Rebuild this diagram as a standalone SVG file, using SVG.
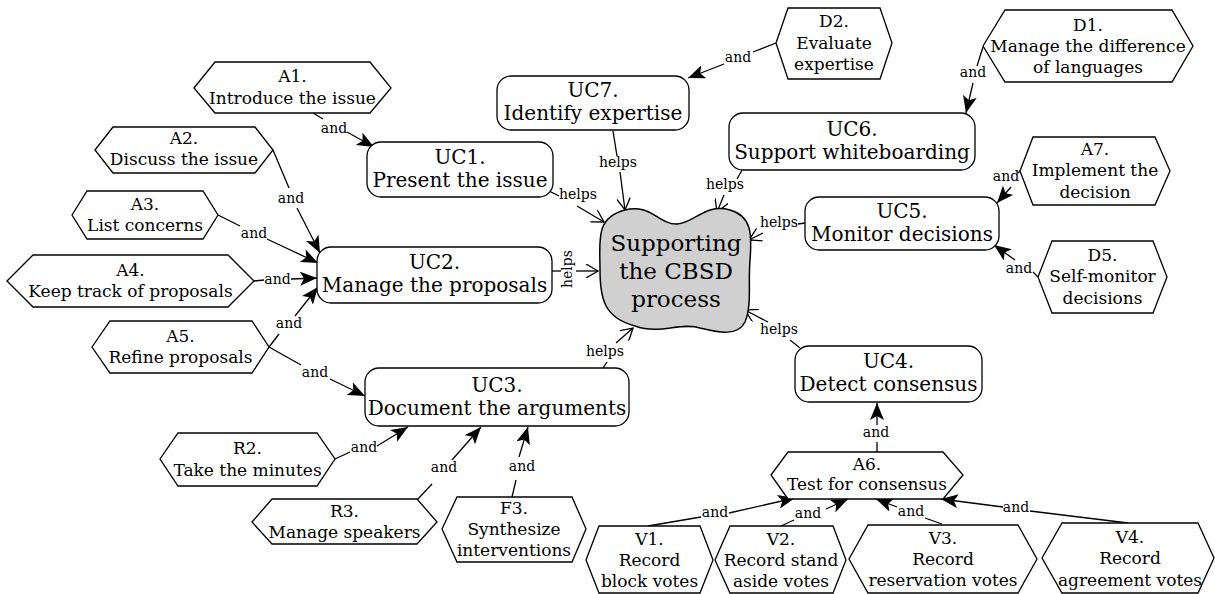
<svg xmlns="http://www.w3.org/2000/svg" width="1215" height="594" viewBox="0 0 1215 594">
<style>
text{text-anchor:middle;fill:#000;font-family:'DejaVu Serif',serif}
.hex{fill:#fff;stroke:#000;stroke-width:1.3}
.rr{fill:#fff;stroke:#000;stroke-width:1.3}
.ht{font-size:17px}
.rt{font-size:20px}
.ct{font-size:23px}
.lb{font-size:14px}
.ln{stroke:#000;stroke-width:1.3;fill:none}
.fa{stroke:#000;stroke-width:1.3;fill:none;marker-end:url(#arrF)}
.oa{stroke:#000;stroke-width:1.3;fill:none;marker-end:url(#arrO)}
</style>
<defs>
<marker id="arrF" markerUnits="userSpaceOnUse" markerWidth="18" markerHeight="14" refX="17" refY="7" orient="auto">
<path d="M0,0 L17,7 L0,14 L4,7 z" fill="#000"/>
</marker>
<marker id="arrO" markerUnits="userSpaceOnUse" markerWidth="14" markerHeight="14" refX="12" refY="7" orient="auto">
<path d="M0,0 L12,7 L0,14" fill="none" stroke="#000" stroke-width="1.3"/>
</marker>
</defs>

<g id="connectors">
<line class="ln" x1="313" y1="113" x2="323" y2="119"/><text class="lb" x="334" y="133">and</text><line class="fa" x1="347" y1="132" x2="374" y2="147"/>
<line class="ln" x1="273" y1="150" x2="289" y2="188"/><text class="lb" x="291" y="203">and</text><line class="fa" x1="297" y1="208" x2="320" y2="253"/>
<line class="ln" x1="218" y1="215" x2="240" y2="226"/><text class="lb" x="254" y="238">and</text><line class="fa" x1="267" y1="239" x2="318" y2="263"/>
<line class="ln" x1="254" y1="281" x2="264" y2="280"/><text class="lb" x="277.5" y="284">and</text><line class="fa" x1="291" y1="279" x2="317" y2="278"/>
<line class="ln" x1="269" y1="347" x2="279" y2="334"/><text class="lb" x="289" y="328">and</text><line class="fa" x1="295" y1="316" x2="318" y2="287"/>
<line class="ln" x1="269" y1="347" x2="301" y2="365"/><text class="lb" x="315" y="377">and</text><line class="fa" x1="330" y1="379" x2="365" y2="396"/>
<line class="ln" x1="335" y1="459" x2="350" y2="452"/><text class="lb" x="364" y="452">and</text><line class="fa" x1="377" y1="446" x2="408" y2="427"/>
<line class="ln" x1="417" y1="500" x2="432" y2="484"/><text class="lb" x="444" y="472">and</text><line class="fa" x1="452" y1="460" x2="481" y2="427"/>
<line class="ln" x1="512" y1="497" x2="516" y2="480"/><text class="lb" x="522" y="471">and</text><line class="fa" x1="519" y1="457" x2="528" y2="427"/>
<line class="ln" x1="776" y1="43" x2="753" y2="52"/><text class="lb" x="738" y="62">and</text><line class="fa" x1="724" y1="64" x2="688" y2="78"/>
<line class="ln" x1="983" y1="47" x2="977" y2="66"/><text class="lb" x="973" y="77">and</text><line class="fa" x1="973" y1="83" x2="966" y2="113"/>
<line class="ln" x1="1020" y1="171" x2="1018" y2="173"/><text class="lb" x="1006" y="181">and</text><line class="fa" x1="1011" y1="187" x2="997" y2="203"/>
<line class="ln" x1="1038" y1="277" x2="1033" y2="272"/><text class="lb" x="1019" y="273">and</text><line class="fa" x1="1015" y1="260" x2="994" y2="245"/>
<line class="ln" x1="877" y1="452" x2="877" y2="442"/><text class="lb" x="876" y="437">and</text><line class="fa" x1="877" y1="425" x2="877" y2="403"/>
<line class="ln" x1="648" y1="526" x2="701" y2="517"/><text class="lb" x="715" y="517">and</text><line class="fa" x1="729" y1="513" x2="795" y2="498"/>
<line class="ln" x1="781" y1="526" x2="794" y2="520"/><text class="lb" x="808" y="518">and</text><line class="fa" x1="826" y1="509" x2="848" y2="499"/>
<line class="ln" x1="942" y1="524" x2="925" y2="518"/><text class="lb" x="911" y="516">and</text><line class="fa" x1="897" y1="507" x2="876" y2="499"/>
<line class="ln" x1="1128" y1="523" x2="1030" y2="511"/><text class="lb" x="1016" y="512">and</text><line class="fa" x1="1003" y1="507" x2="941" y2="499"/>
<line class="ln" x1="613" y1="131" x2="617" y2="156"/><text class="lb" x="618" y="167">helps</text><line class="oa" x1="620" y1="172" x2="625" y2="210"/>
<line class="ln" x1="549" y1="191" x2="559" y2="196"/><text class="lb" x="578" y="199">helps</text><line class="oa" x1="577" y1="206" x2="604" y2="222"/>
<line class="ln" x1="552" y1="271" x2="561" y2="271"/><text class="lb" transform="translate(572,269) rotate(-90)">helps</text><line class="oa" x1="576" y1="271" x2="598" y2="271"/>
<line class="ln" x1="742" y1="170" x2="737" y2="179"/><text class="lb" x="725" y="189">helps</text><line class="oa" x1="724" y1="195" x2="717" y2="212"/>
<line class="ln" x1="805" y1="223" x2="798" y2="224"/><text class="lb" x="779" y="227">helps</text><line class="oa" x1="763" y1="233" x2="749" y2="240"/>
<line class="ln" x1="800" y1="348" x2="790" y2="340"/><text class="lb" x="779" y="334">helps</text><line class="oa" x1="768" y1="322" x2="745" y2="310"/>
<line class="ln" x1="603" y1="368" x2="607" y2="362"/><text class="lb" x="605" y="356">helps</text><line class="oa" x1="616" y1="343" x2="633" y2="328"/>
</g>

<g id="center">
<path d="M625,210 C650,203 660,225 677,224 C695,223 705,203 730,210 C752,216 752,235 750,260 C748,285 752,305 745,322 C738,336 720,333 700,328 C680,322 660,335 635,326 C605,318 600,300 600,270 C600,240 595,218 625,210 Z" fill="#d0d0d0" stroke="#000" stroke-width="1.5"/>
<text class="ct" x="676" y="251">Supporting</text>
<text class="ct" x="676" y="279">the CBSD</text>
<text class="ct" x="676" y="307">process</text>
</g>

<g id="UC7"><rect class="rr" x="497" y="76" width="192" height="54" rx="14"/><text class="rt" x="593" y="97">UC7.</text><text class="rt" x="593" y="120">Identify expertise</text></g>
<g id="UC1"><rect class="rr" x="367" y="142" width="186" height="55" rx="14"/><text class="rt" x="460" y="164">UC1.</text><text class="rt" x="460" y="187">Present the issue</text></g>
<g id="UC2"><rect class="rr" x="317" y="247" width="235" height="56" rx="14"/><text class="rt" x="434.5" y="269">UC2.</text><text class="rt" x="434.5" y="292">Manage the proposals</text></g>
<g id="UC3"><rect class="rr" x="365" y="368" width="264" height="58" rx="14"/><text class="rt" x="497" y="392">UC3.</text><text class="rt" x="497" y="415">Document the arguments</text></g>
<g id="UC6"><rect class="rr" x="729" y="113" width="246" height="57" rx="14"/><text class="rt" x="852" y="136">UC6.</text><text class="rt" x="852" y="159">Support whiteboarding</text></g>
<g id="UC5"><rect class="rr" x="805" y="197" width="194" height="53" rx="14"/><text class="rt" x="902" y="218">UC5.</text><text class="rt" x="902" y="241">Monitor decisions</text></g>
<g id="UC4"><rect class="rr" x="795" y="346" width="187" height="56" rx="14"/><text class="rt" x="888.5" y="368">UC4.</text><text class="rt" x="888.5" y="391">Detect consensus</text></g>

<g id="A1"><polygon class="hex" points="194,88 215,62 370,62 391,88 370,113 215,113"/><text class="ht" x="292.5" y="82">A1.</text><text class="ht" x="292.5" y="104">Introduce the issue</text></g>
<g id="A2"><polygon class="hex" points="95,150 113,127 255,127 273,150 255,173 113,173"/><text class="ht" x="184" y="144">A2.</text><text class="ht" x="184" y="165">Discuss the issue</text></g>
<g id="A3"><polygon class="hex" points="72,215 87,191 203,191 218,215 203,239 87,239"/><text class="ht" x="145" y="210">A3.</text><text class="ht" x="145" y="231">List concerns</text></g>
<g id="A4"><polygon class="hex" points="7,281 33,255 228,255 254,281 228,307 33,307"/><text class="ht" x="130.5" y="276">A4.</text><text class="ht" x="130.5" y="297">Keep track of proposals</text></g>
<g id="A5"><polygon class="hex" points="92,347 110,321 252,321 269,347 252,373 110,373"/><text class="ht" x="180.5" y="342">A5.</text><text class="ht" x="180.5" y="363">Refine proposals</text></g>
<g id="R2"><polygon class="hex" points="160,459 178,433 317,433 335,459 317,486 178,486"/><text class="ht" x="247.5" y="454">R2.</text><text class="ht" x="247.5" y="476">Take the minutes</text></g>
<g id="R3"><polygon class="hex" points="252,522 272,499 417,499 437,522 417,544 272,544"/><text class="ht" x="344.5" y="517">R3.</text><text class="ht" x="344.5" y="538">Manage speakers</text></g>
<g id="F3"><polygon class="hex" points="442,529 457,497 572,497 586,529 572,562 457,562"/><text class="ht" x="514" y="514">F3.</text><text class="ht" x="514" y="535">Synthesize</text><text class="ht" x="514" y="556">interventions</text></g>
<g id="V1"><polygon class="hex" points="586,560 599,526 700,526 713,560 700,593 599,593"/><text class="ht" x="649.5" y="545">V1.</text><text class="ht" x="649.5" y="566">Record</text><text class="ht" x="649.5" y="587">block votes</text></g>
<g id="V2"><polygon class="hex" points="715,560 730,526 833,526 846,560 833,593 730,593"/><text class="ht" x="781" y="545">V2.</text><text class="ht" x="781" y="566">Record stand</text><text class="ht" x="781" y="587">aside votes</text></g>
<g id="V3"><polygon class="hex" points="849,559 868,525 1018,525 1037,559 1018,593 868,593"/><text class="ht" x="943" y="544">V3.</text><text class="ht" x="943" y="565">Record</text><text class="ht" x="943" y="586">reservation votes</text></g>
<g id="V4"><polygon class="hex" points="1042,558 1062,523 1198,523 1214,558 1198,593 1062,593"/><text class="ht" x="1130" y="543">V4.</text><text class="ht" x="1130" y="564">Record</text><text class="ht" x="1130" y="586">agreement votes</text></g>
<g id="A6"><polygon class="hex" points="771,475 788,452 943,452 963,475 943,499 788,499"/><text class="ht" x="867" y="470">A6.</text><text class="ht" x="867" y="490">Test for consensus</text></g>
<g id="D2"><polygon class="hex" points="776,43 788,8 880,8 892,43 880,79 788,79"/><text class="ht" x="834" y="27">D2.</text><text class="ht" x="834" y="49">Evaluate</text><text class="ht" x="834" y="70">expertise</text></g>
<g id="D1"><polygon class="hex" points="983,46 1005,10 1172,10 1193,46 1172,82 1005,82"/><text class="ht" x="1088" y="31">D1.</text><text class="ht" x="1088" y="52">Manage the difference</text><text class="ht" x="1088" y="73">of languages</text></g>
<g id="A7"><polygon class="hex" points="1020,171 1033,137 1155,137 1170,171 1155,205 1033,205"/><text class="ht" x="1095" y="155">A7.</text><text class="ht" x="1095" y="176">Implement the</text><text class="ht" x="1095" y="198">decision</text></g>
<g id="D5"><polygon class="hex" points="1038,277 1052,241 1153,241 1167,277 1153,313 1052,313"/><text class="ht" x="1102.5" y="261">D5.</text><text class="ht" x="1102.5" y="282">Self-monitor</text><text class="ht" x="1102.5" y="304">decisions</text></g>
</svg>
